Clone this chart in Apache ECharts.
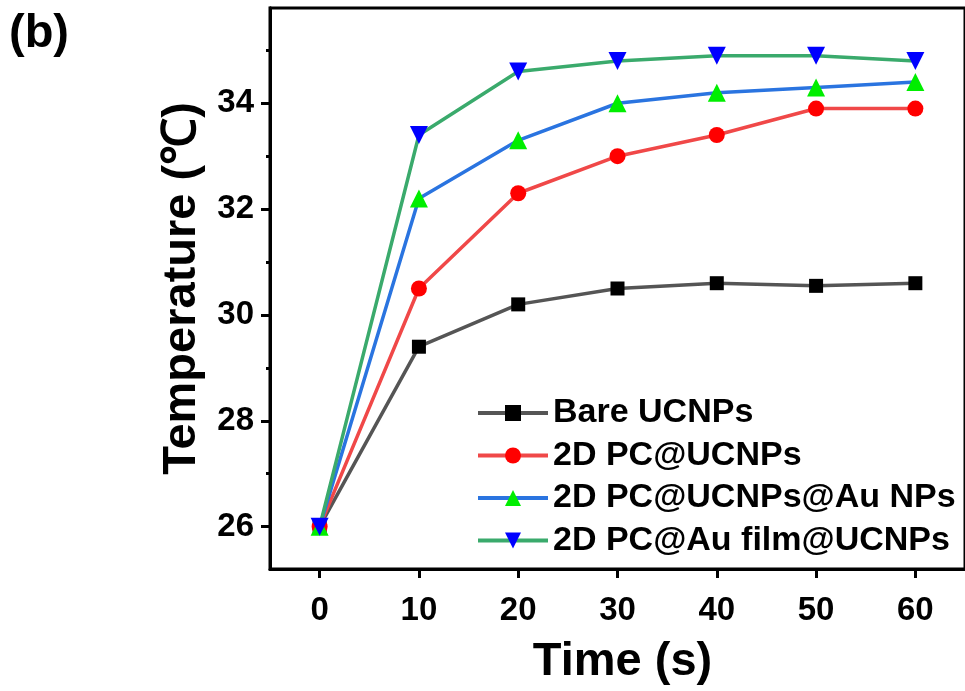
<!DOCTYPE html>
<html>
<head>
<meta charset="utf-8">
<script src="https://cdn.jsdelivr.net/npm/echarts@6/dist/echarts.min.js"></script>
<style>
  html, body { margin: 0; padding: 0; background: #fff; }
  #chart { width: 965px; height: 691px; }
</style>
</head>
<body>
<div id="chart"></div>
<script>
// Time points (s)
const timeS = [0, 10, 20, 30, 40, 50, 60];
// Temperature (°C) for each sample
const bareUCNPs   = [26.0, 29.4, 30.2, 30.5, 30.6, 30.55, 30.6];
const pcUCNPs     = [26.0, 30.5, 32.3, 33.0, 33.4, 33.9, 33.9];
const pcUCNPsAuNP = [26.0, 32.2, 33.3, 34.0, 34.2, 34.3, 34.4];
const pcAuFilm    = [26.0, 33.4, 34.6, 34.8, 34.9, 34.9, 34.8];
const seriesNames = ['Bare UCNPs', '2D PC@UCNPs', '2D PC@UCNPs@Au NPs', '2D PC@Au film@UCNPs'];
// Tick values
const xTicks = [0, 10, 20, 30, 40, 50, 60];
const yTicks = [26, 28, 30, 32, 34];
const yMinorTicks = [27, 29, 31, 33, 35];

const FONT = '"Liberation Sans", Arial, sans-serif';

function pairs(ys) { return timeS.map((t, i) => [t, ys[i]]); }

function lineSeries(name, ys, lineColor, markColor, symbol, size, rotate) {
  return {
    name: name,
    type: 'line',
    data: pairs(ys),
    symbol: symbol,
    symbolSize: size,
    symbolRotate: rotate || 0,
    showAllSymbol: true,
    lineStyle: { color: lineColor, width: 3.5 },
    itemStyle: { color: markColor },
    emphasis: { disabled: true },
    z: 3
  };
}

const chart = echarts.init(document.getElementById('chart'), null, { renderer: 'canvas' });

const axisLineStyle = { show: true, onZero: false, lineStyle: { color: '#000', width: 3 } };
const labelFont = { fontFamily: FONT, fontWeight: 'bold', fontSize: 33, color: '#000' };

chart.setOption({
  animation: false,
  backgroundColor: '#fff',
  grid: {
    left: 270, right: -12, top: 8, bottom: 120,
    show: true, borderColor: '#000', borderWidth: 3
  },
  graphic: [{
    type: 'text', left: 9, top: 11,
    style: { text: '(b)', font: 'bold 47px ' + FONT, fill: '#000' }
  }],
  legend: {
    orient: 'vertical',
    left: 471, top: 391,
    itemWidth: 70, itemHeight: 20,
    itemGap: 8.5,
    data: seriesNames,
    lineStyle: { width: 4 },
    textStyle: { fontFamily: FONT, fontWeight: 'bold', fontSize: 34, color: '#000' }
  },
  xAxis: [{
    type: 'value', min: -5, max: 65,
    name: 'Time (s)', nameLocation: 'middle', nameGap: 70,
    nameTextStyle: { fontFamily: FONT, fontWeight: 'bold', fontSize: 47, color: '#000', padding: [0, 0, 0, 10] },
    axisLine: axisLineStyle,
    axisTick: { show: true, customValues: xTicks, length: 9, lineStyle: { color: '#000', width: 3 } },
    axisLabel: Object.assign({ customValues: xTicks, margin: 25 }, labelFont),
    splitLine: { show: false }
  }],
  yAxis: [{
    type: 'value', min: 25.2, max: 35.8,
    name: 'Temperature (\u2103)', nameLocation: 'middle', nameGap: 64,
    nameTextStyle: { fontFamily: FONT, fontWeight: 'bold', fontSize: 47, color: '#000' },
    axisLine: axisLineStyle,
    axisTick: { show: true, customValues: yTicks, length: 9, lineStyle: { color: '#000', width: 3 } },
    axisLabel: Object.assign({ customValues: yTicks, margin: 16 }, labelFont),
    splitLine: { show: false }
  }, {
    type: 'value', min: 25.2, max: 35.8, position: 'left',
    axisLine: axisLineStyle,
    axisTick: { show: true, customValues: yMinorTicks, length: 4, lineStyle: { color: '#000', width: 3 } },
    axisLabel: { show: false, customValues: yMinorTicks },
    splitLine: { show: false }
  }],
  series: [
    lineSeries(seriesNames[0], bareUCNPs,   '#555555', '#000000', 'rect', 14),
    lineSeries(seriesNames[1], pcUCNPs,     '#f04848', '#ff0000', 'circle', 16),
    lineSeries(seriesNames[2], pcUCNPsAuNP, '#2a74e0', '#00ee00', 'triangle', 18),
    lineSeries(seriesNames[3], pcAuFilm,    '#3aaa6c', '#0000ff', 'triangle', 18, 180)
  ]
});
</script>
</body>
</html>
